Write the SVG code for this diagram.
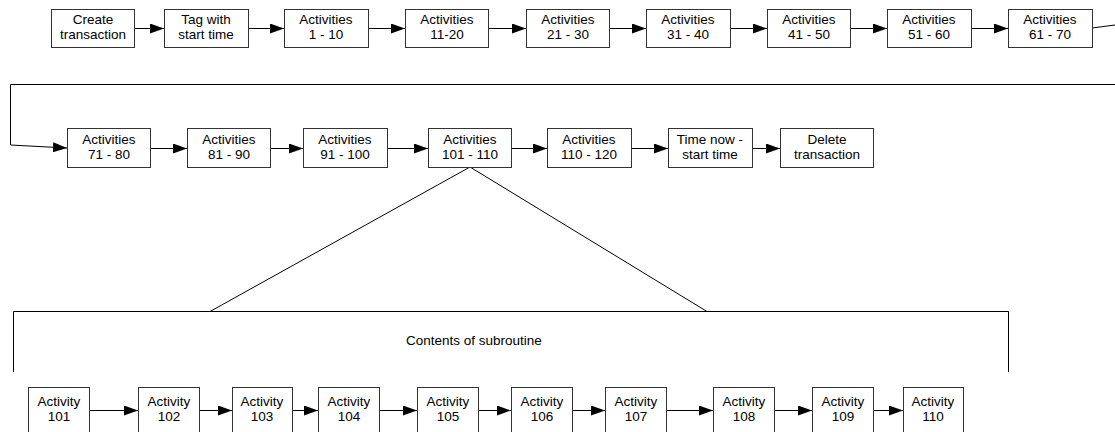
<svg xmlns="http://www.w3.org/2000/svg" width="1115" height="432" viewBox="0 0 1115 432">
  <style>
    .box { fill: #fff; stroke: #333; stroke-width: 1; }
    .lbl { font-family: "Liberation Sans", Arial, sans-serif; font-size: 13.5px; fill: #000; text-anchor: middle; }
    .edge { fill: none; stroke: #000; stroke-width: 1; }
    .arrow { fill: none; stroke: #000; stroke-width: 1; marker-end: url(#head); }
    .note { font-family: "Liberation Sans", Arial, sans-serif; font-size: 13.5px; fill: #000; }
  </style>
  <defs>
    <marker id="head" markerUnits="userSpaceOnUse" markerWidth="14" markerHeight="10" refX="14" refY="5" orient="auto">
      <path d="M0,0 L14,5 L0,10 z" fill="#000"/>
    </marker>
  </defs>
  <rect width="1115" height="432" fill="#fff"/>

  <!-- connectors -->
  <g id="connectors">
    <!-- main sequence, first row -->
    <line class="arrow" x1="134" y1="28.5" x2="164" y2="28.5"/>
    <line class="arrow" x1="248" y1="28.5" x2="284" y2="28.5"/>
    <line class="arrow" x1="368" y1="28.5" x2="405" y2="28.5"/>
    <line class="arrow" x1="488" y1="28.5" x2="526" y2="28.5"/>
    <line class="arrow" x1="609" y1="28.5" x2="646" y2="28.5"/>
    <line class="arrow" x1="730" y1="28.5" x2="767" y2="28.5"/>
    <line class="arrow" x1="850" y1="28.5" x2="887" y2="28.5"/>
    <line class="arrow" x1="971" y1="28.5" x2="1008" y2="28.5"/>
    <!-- wrap to second row -->
    <line class="edge" x1="1092" y1="28" x2="1115" y2="25"/>
    <polyline class="arrow" points="1115,84.5 10.5,84.5 10.5,145 67,148"/>
    <!-- second row -->
    <line class="arrow" x1="150" y1="148.5" x2="187" y2="148.5"/>
    <line class="arrow" x1="270" y1="148.5" x2="303" y2="148.5"/>
    <line class="arrow" x1="387" y1="148.5" x2="428" y2="148.5"/>
    <line class="arrow" x1="511" y1="148.5" x2="547" y2="148.5"/>
    <line class="arrow" x1="631" y1="148.5" x2="668" y2="148.5"/>
    <line class="arrow" x1="752" y1="148.5" x2="780" y2="148.5"/>
    <!-- expansion of the subroutine -->
    <line class="edge" x1="470" y1="167" x2="210" y2="311.5"/>
    <line class="edge" x1="470" y1="167" x2="707" y2="311.5"/>
    <polyline class="edge" points="13.5,372 13.5,311.5 1008.5,311.5 1008.5,372" stroke="#222"/>
    <!-- subroutine row -->
    <line class="arrow" x1="89" y1="410.5" x2="138" y2="410.5"/>
    <line class="arrow" x1="199" y1="410.5" x2="232" y2="410.5"/>
    <line class="arrow" x1="292" y1="410.5" x2="318" y2="410.5"/>
    <line class="arrow" x1="379" y1="410.5" x2="417" y2="410.5"/>
    <line class="arrow" x1="478" y1="410.5" x2="511" y2="410.5"/>
    <line class="arrow" x1="572" y1="410.5" x2="605" y2="410.5"/>
    <line class="arrow" x1="666" y1="410.5" x2="713" y2="410.5"/>
    <line class="arrow" x1="774" y1="410.5" x2="812" y2="410.5"/>
    <line class="arrow" x1="873" y1="410.5" x2="903" y2="410.5"/>
  </g>

  <text class="note" x="406" y="345">Contents of subroutine</text>

  <!-- first row -->
  <g id="create"><rect class="box" x="51.5" y="9.5" width="83" height="38"/><text class="lbl" x="93" y="24">Create</text><text class="lbl" x="93" y="39">transaction</text></g>
  <g id="tag"><rect class="box" x="164.5" y="9.5" width="84" height="38"/><text class="lbl" x="206" y="24">Tag with</text><text class="lbl" x="206" y="39">start time</text></g>
  <g id="a1-10"><rect class="box" x="284.5" y="9.5" width="84" height="38"/><text class="lbl" x="326" y="24">Activities</text><text class="lbl" x="326" y="39">1 - 10</text></g>
  <g id="a11-20"><rect class="box" x="405.5" y="9.5" width="83" height="38"/><text class="lbl" x="447" y="24">Activities</text><text class="lbl" x="447" y="39">11-20</text></g>
  <g id="a21-30"><rect class="box" x="526.5" y="9.5" width="83" height="38"/><text class="lbl" x="568" y="24">Activities</text><text class="lbl" x="568" y="39">21 - 30</text></g>
  <g id="a31-40"><rect class="box" x="646.5" y="9.5" width="84" height="38"/><text class="lbl" x="688" y="24">Activities</text><text class="lbl" x="688" y="39">31 - 40</text></g>
  <g id="a41-50"><rect class="box" x="767.5" y="9.5" width="83" height="38"/><text class="lbl" x="809" y="24">Activities</text><text class="lbl" x="809" y="39">41 - 50</text></g>
  <g id="a51-60"><rect class="box" x="887.5" y="9.5" width="84" height="38"/><text class="lbl" x="929" y="24">Activities</text><text class="lbl" x="929" y="39">51 - 60</text></g>
  <g id="a61-70"><rect class="box" x="1008.5" y="9.5" width="84" height="38"/><text class="lbl" x="1050" y="24">Activities</text><text class="lbl" x="1050" y="39">61 - 70</text></g>

  <!-- second row -->
  <g id="a71-80"><rect class="box" x="67.5" y="128.5" width="83" height="39"/><text class="lbl" x="109" y="144">Activities</text><text class="lbl" x="109" y="159">71 - 80</text></g>
  <g id="a81-90"><rect class="box" x="187.5" y="128.5" width="83" height="39"/><text class="lbl" x="229" y="144">Activities</text><text class="lbl" x="229" y="159">81 - 90</text></g>
  <g id="a91-100"><rect class="box" x="303.5" y="128.5" width="84" height="39"/><text class="lbl" x="345" y="144">Activities</text><text class="lbl" x="345" y="159">91 - 100</text></g>
  <g id="a101-110"><rect class="box" x="428.5" y="128.5" width="83" height="39"/><text class="lbl" x="470" y="144">Activities</text><text class="lbl" x="470" y="159">101 - 110</text></g>
  <g id="a110-120"><rect class="box" x="547.5" y="128.5" width="84" height="39"/><text class="lbl" x="589" y="144">Activities</text><text class="lbl" x="589" y="159">110 - 120</text></g>
  <g id="elapsed"><rect class="box" x="668.5" y="128.5" width="84" height="39"/><text class="lbl" x="710" y="144">Time now -</text><text class="lbl" x="710" y="159">start time</text></g>
  <g id="delete"><rect class="box" x="780.5" y="128.5" width="93" height="39"/><text class="lbl" x="827" y="144">Delete</text><text class="lbl" x="827" y="159">transaction</text></g>

  <!-- subroutine row -->
  <g id="act101"><rect class="box" x="28.5" y="387.5" width="61" height="50"/><text class="lbl" x="59" y="406">Activity</text><text class="lbl" x="59" y="421">101</text></g>
  <g id="act102"><rect class="box" x="138.5" y="387.5" width="61" height="50"/><text class="lbl" x="169" y="406">Activity</text><text class="lbl" x="169" y="421">102</text></g>
  <g id="act103"><rect class="box" x="232.5" y="387.5" width="60" height="50"/><text class="lbl" x="262" y="406">Activity</text><text class="lbl" x="262" y="421">103</text></g>
  <g id="act104"><rect class="box" x="318.5" y="387.5" width="61" height="50"/><text class="lbl" x="349" y="406">Activity</text><text class="lbl" x="349" y="421">104</text></g>
  <g id="act105"><rect class="box" x="417.5" y="387.5" width="61" height="50"/><text class="lbl" x="448" y="406">Activity</text><text class="lbl" x="448" y="421">105</text></g>
  <g id="act106"><rect class="box" x="511.5" y="387.5" width="61" height="50"/><text class="lbl" x="542" y="406">Activity</text><text class="lbl" x="542" y="421">106</text></g>
  <g id="act107"><rect class="box" x="605.5" y="387.5" width="61" height="50"/><text class="lbl" x="636" y="406">Activity</text><text class="lbl" x="636" y="421">107</text></g>
  <g id="act108"><rect class="box" x="713.5" y="387.5" width="61" height="50"/><text class="lbl" x="744" y="406">Activity</text><text class="lbl" x="744" y="421">108</text></g>
  <g id="act109"><rect class="box" x="812.5" y="387.5" width="61" height="50"/><text class="lbl" x="843" y="406">Activity</text><text class="lbl" x="843" y="421">109</text></g>
  <g id="act110"><rect class="box" x="903.5" y="387.5" width="60" height="50"/><text class="lbl" x="933" y="406">Activity</text><text class="lbl" x="933" y="421">110</text></g>
</svg>
